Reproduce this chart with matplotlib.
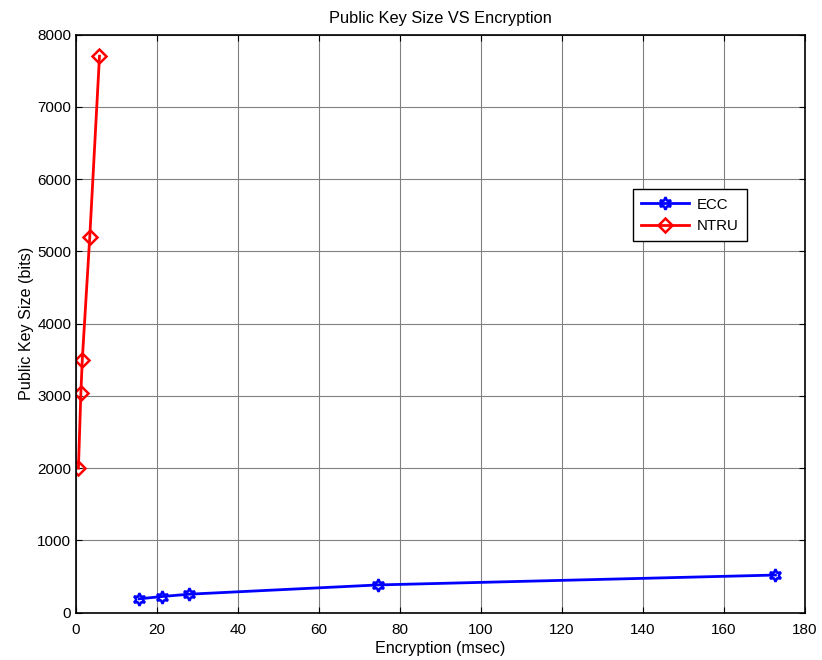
import matplotlib
matplotlib.use("Agg")
import matplotlib.pyplot as plt

plt.rcParams['font.family'] = ['Liberation Sans', 'DejaVu Sans']

ecc_x = [15.6, 21.3, 27.9, 74.5, 172.7]
ecc_y = [192, 224, 256, 384, 521]
ntru_x = [0.6, 1.2, 1.55, 3.4, 5.8]
ntru_y = [2000, 3035, 3500, 5200, 7700]
xticks = [0, 20, 40, 60, 80, 100, 120, 140, 160, 180]
yticks = [0, 1000, 2000, 3000, 4000, 5000, 6000, 7000, 8000]

W, H = 822, 660
left, right, top, bottom = 76, 805, 34.5, 612.7
fig = plt.figure(figsize=(W / 100, H / 100), dpi=100)
ax = fig.add_axes([left / W, 1 - bottom / H, (right - left) / W, (bottom - top) / H])

ax.plot(ecc_x, ecc_y, color='blue', lw=2, marker=(6, 1, 0), ms=9,
        mfc='none', mec='blue', mew=1.8, label='ECC')
ax.plot(ntru_x, ntru_y, color='red', lw=2, marker='D', ms=7,
        mfc='none', mec='red', mew=1.8, label='NTRU')

ax.set_xlim(0, 180)
ax.set_ylim(0, 8000)
ax.set_xticks(xticks)
ax.set_yticks(yticks)
ax.grid(True, color='#808080', lw=0.8)
ax.tick_params(direction='in', top=True, right=True, labelsize=11, length=4)
ax.tick_params(axis='x', pad=7.5)
ax.tick_params(axis='y', pad=3.5)
for s in ax.spines.values():
    s.set_linewidth(1.2)

ax.set_title('Public Key Size VS Encryption', fontsize=11.8, pad=8)
ax.set_xlabel('Encryption (msec)', fontsize=11.6, labelpad=3)
ax.set_ylabel('Public Key Size (bits)', fontsize=11.6, labelpad=2.5)

leg = ax.legend(loc='upper left', bbox_to_anchor=((633 - left) / (right - left), (bottom - 189.3) / (bottom - top)),
                fancybox=False, framealpha=1, edgecolor='black', fontsize=10.8,
                handlelength=3.2, handletextpad=0.5, borderaxespad=0,
                labelspacing=0.5, borderpad=0.55)
leg.get_frame().set_linewidth(1.0)

fig.savefig('out.png', dpi=100)
